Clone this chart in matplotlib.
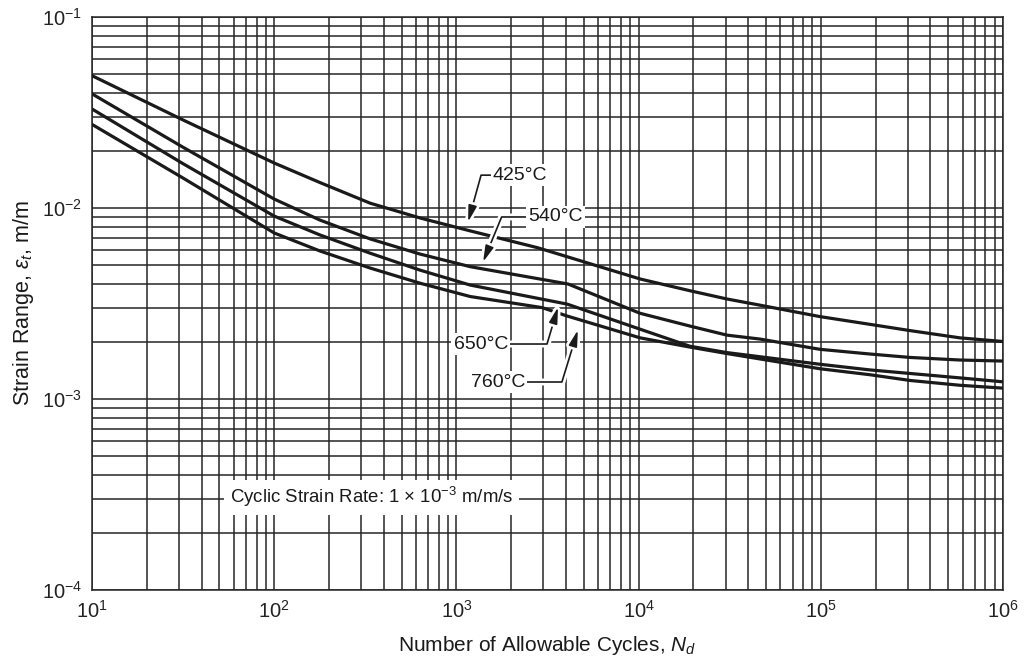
import numpy as np
import matplotlib
matplotlib.use("Agg")
import matplotlib.pyplot as plt
from matplotlib.ticker import LogLocator, NullFormatter
import matplotlib.patheffects as pe

plt.rcParams['font.family'] = ['Liberation Sans', 'DejaVu Sans']
plt.rcParams['mathtext.fontset'] = 'custom'
plt.rcParams['mathtext.rm'] = 'Liberation Sans'
plt.rcParams['mathtext.it'] = 'Liberation Sans:italic'
plt.rcParams['mathtext.sf'] = 'Liberation Sans'

# strain range curves (cycles, m/m)
n_425 = [10, 31.6, 100, 178, 336, 631, 1190, 2800, 10190, 19100, 30500, 46300, 99000, 186000, 310000, 580000, 1e6]
e_425 = [0.0493, 0.0289, 0.0172, 0.0136, 0.0106, 0.00887, 0.00759, 0.00619, 0.00425, 0.00369, 0.00334,
         0.0031, 0.0027, 0.00246, 0.00228, 0.00209, 0.0020]

n_540 = [10, 31.6, 100, 178, 336, 631, 1190, 4100, 10190, 19100, 30500, 46300, 99000, 186000, 310000, 580000, 1e6]
e_540 = [0.0396, 0.0208, 0.01114, 0.00865, 0.00689, 0.00574, 0.00493, 0.0040, 0.00281, 0.00241, 0.00216,
         0.00206, 0.00182, 0.00172, 0.00165, 0.0016, 0.00158]

n_650 = [10, 31.6, 100, 178, 336, 631, 1190, 4050, 10190, 19100, 30500, 99000, 186000, 310000, 580000, 1e6]
e_650 = [0.033, 0.01706, 0.00907, 0.00723, 0.0058, 0.00473, 0.00395, 0.00314, 0.00232, 0.00189, 0.00175,
         0.00152, 0.00142, 0.00136, 0.00129, 0.00123]

n_760 = [10, 31.6, 100, 178, 336, 631, 1190, 2950, 4050, 10190, 19100, 30500, 99000, 186000, 310000, 580000, 1e6]
e_760 = [0.0274, 0.01435, 0.0074, 0.00596, 0.00485, 0.00404, 0.00344, 0.00301, 0.00272, 0.00209, 0.00187,
         0.00173, 0.00144, 0.00134, 0.00125, 0.00118, 0.00114]

labels = ['425°C', '540°C', '650°C', '760°C']

fig = plt.figure(figsize=(10.24, 6.64), dpi=100)
ax = fig.add_axes([92/1024, 1 - 590/664, 911/1024, 573/664])

ax.set_xscale('log')
ax.set_yscale('log')
ax.set_xlim(1e1, 1e6)
ax.set_ylim(1e-4, 1e-1)

ax.xaxis.set_major_locator(LogLocator(base=10))
ax.yaxis.set_major_locator(LogLocator(base=10))
ax.xaxis.set_minor_locator(LogLocator(base=10, subs=np.arange(2, 10)))
ax.yaxis.set_minor_locator(LogLocator(base=10, subs=np.arange(2, 10)))
ax.xaxis.set_minor_formatter(NullFormatter())
ax.yaxis.set_minor_formatter(NullFormatter())

ax.grid(which='both', color='#262626', linewidth=1.1)
ax.set_axisbelow(True)
for s in ax.spines.values():
    s.set_color('#262626')
    s.set_linewidth(1.1)
ax.tick_params(which='both', length=0, labelsize=14.5, pad=7, colors='#222222')

for n, e in [(n_425, e_425), (n_540, e_540), (n_650, e_650), (n_760, e_760)]:
    ax.plot(n, e, color='#1a1a1a', linewidth=2.3, solid_joinstyle='round', zorder=3)

box = dict(boxstyle='square,pad=0.12', facecolor='white', edgecolor='none')
halo = [pe.Stroke(linewidth=5, foreground='white'), pe.Normal()]

# label text position (axes fraction), arrow tip (data), leader angle, text side
notes = [
    (labels[0], (0.440, 0.724), (1159, 0.00845), 74.5, 'left'),
    (labels[1], (0.4786, 0.651), (1400, 0.00521), 67.6, 'left'),
    (labels[2], (0.4566, 0.4293), (3613, 0.00303), 73.4, 'right'),
    (labels[3], (0.4753, 0.363), (4645, 0.0023), 72.9, 'right'),
]
for txt, pos, tip, ang, side in notes:
    a = ax.annotate(txt, xy=tip, xycoords='data', xytext=pos, textcoords='axes fraction',
                    ha=side, va='center', fontsize=14, color='#1a1a1a', bbox=box, zorder=5,
                    arrowprops=dict(arrowstyle='-|>,head_length=0.7,head_width=0.18',
                                    color='#1a1a1a', lw=1.2, shrinkA=0, shrinkB=0,
                                    relpos=(0, 0.5) if side == 'left' else (1, 0.5),
                                    connectionstyle='angle,angleA=0,angleB=%g,rad=0' % ang))
    a.arrow_patch.set_path_effects(halo)
    a.arrow_patch.set_zorder(4)

ax.text(0.307, 0.162, 'Cyclic Strain Rate: 1 $\\times$ 10$^{-3}$ m/m/s', transform=ax.transAxes,
        ha='center', va='center', fontsize=13.4, color='#1a1a1a',
        bbox=dict(boxstyle='square,pad=0.3', facecolor='white', edgecolor='none'), zorder=5)

ax.set_xlabel('Number of Allowable Cycles, $\\mathit{N_d}$', fontsize=15, labelpad=9, color='#1a1a1a')
ax.set_ylabel('Strain Range, $\\epsilon_t$, m/m', fontsize=15.5, labelpad=4, color='#1a1a1a')

fig.savefig('out.png', dpi=100)
